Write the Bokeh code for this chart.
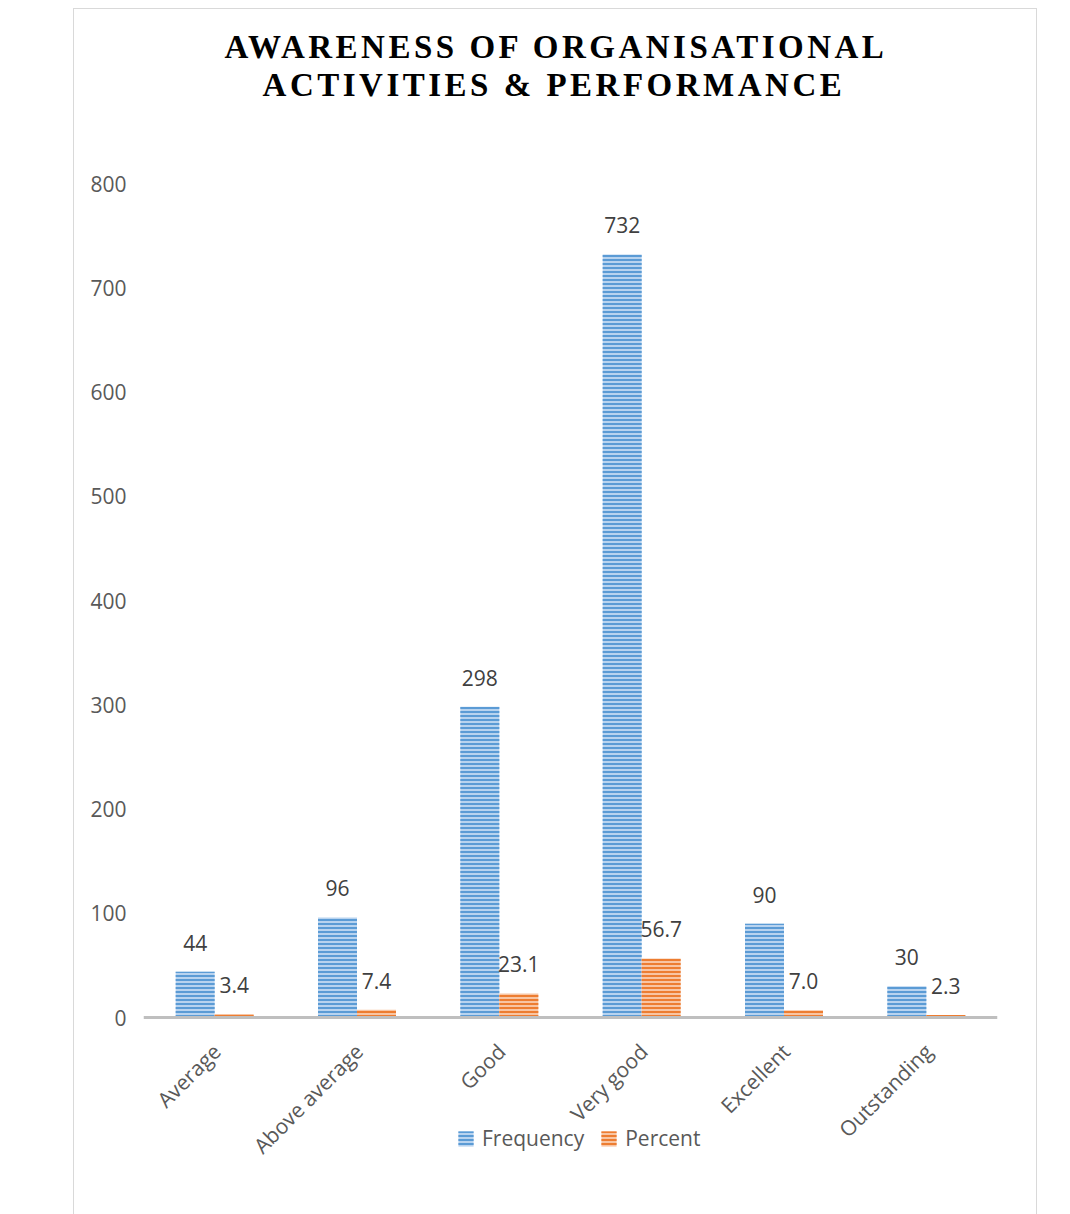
import math
from bokeh.plotting import figure
from bokeh.models import (ColumnDataSource, FactorRange, LabelSet, Legend, LegendItem,
                          Range1d, Spacer, FixedTicker, Span)
from bokeh.core.properties import value
from bokeh.transform import dodge
from bokeh.layouts import row, column
from bokeh.embed import file_html
from bokeh.resources import INLINE

categories = ["Average", "Above average", "Good", "Very good", "Excellent", "Outstanding"]
frequency = [44, 96, 298, 732, 90, 30]
percent = [3.4, 7.4, 23.1, 56.7, 7.0, 2.3]
y_ticks = [0, 100, 200, 300, 400, 500, 600, 700, 800]
title_lines = ["AWARENESS OF ORGANISATIONAL", "ACTIVITIES & PERFORMANCE"]

FONT = "Open Sans"
FS = "21px"
BAR_W = 0.274
W = 962
TITLE_H = 120
MAIN_H = 1090

# ---------- title strip ----------
t = figure(width=W, height=TITLE_H, x_range=Range1d(0, W), y_range=Range1d(0, TITLE_H),
           x_axis_type=None, y_axis_type=None, output_backend="svg", toolbar_location=None,
           min_border=0)
t.grid.visible = False
t.outline_line_color = None
t.styles = {"letter-spacing": "3.5px"}
tsrc = ColumnDataSource(dict(txt=title_lines, x=[412, 415], y=[83, 45]))
t.text(x="x", y="y", text="txt", source=tsrc, text_align="center", text_baseline="alphabetic",
       text_font=value("Liberation Serif"), text_font_style="bold", text_font_size="33px",
       text_color="#000000")

# ---------- main chart ----------
src = ColumnDataSource(dict(
    cat=categories, freq=frequency, pct=percent,
    freq_lbl=[str(v) for v in frequency],
    pct_lbl=[f"{v:.1f}" for v in percent],
    zero=[0] * len(categories),
))

px_per_unit = (1017 - 183) / 800.0
y_start = -(1200 - 1017) / px_per_unit

p = figure(x_range=FactorRange(*categories), y_range=Range1d(y_start, 800),
           width=W, height=MAIN_H, output_backend="svg", toolbar_location=None,
           min_border_left=69, min_border_right=39, min_border_top=54, min_border_bottom=19)
p.x_range.range_padding = 0
p.xaxis.visible = False
p.xgrid.visible = False
p.ygrid.visible = False
p.outline_line_color = None

r1 = p.vbar(x=dodge("cat", -BAR_W / 2, range=p.x_range), top="freq", width=BAR_W, source=src,
            fill_color="#b8d3ef", line_color=None,
            hatch_pattern="horizontal_line", hatch_color="#5b9bd5", hatch_scale=4, hatch_weight=2)
r2 = p.vbar(x=dodge("cat", BAR_W / 2, range=p.x_range), top="pct", width=BAR_W, source=src,
            fill_color="#f8c5a3", line_color=None,
            hatch_pattern="horizontal_line", hatch_color="#ed7d31", hatch_scale=4, hatch_weight=2)

p.add_layout(Span(location=0, dimension="width", line_color="#bfbfbf", line_width=3))

p.add_layout(LabelSet(x=dodge("cat", -BAR_W / 2, range=p.x_range), y="freq", text="freq_lbl", source=src,
                      text_align="center", text_baseline="alphabetic", y_offset=21,
                      text_font=value(FONT), text_font_size=FS, text_color="#404040"))
p.add_layout(LabelSet(x=dodge("cat", BAR_W / 2, range=p.x_range), y="pct", text="pct_lbl", source=src,
                      text_align="center", text_baseline="alphabetic", y_offset=21,
                      text_font=value(FONT), text_font_size=FS, text_color="#404040"))

# category labels (rotated 45 degrees)
p.text(x="cat", y="zero", text="cat", source=src, angle=math.pi / 4,
       text_align="right", text_baseline="middle", x_offset=2, y_offset=30,
       text_font=value(FONT), text_font_size=FS, text_color="#595959")

p.yaxis.ticker = FixedTicker(ticks=y_ticks)
p.yaxis.axis_line_color = None
p.yaxis.major_tick_line_color = None
p.yaxis.minor_tick_line_color = None
p.yaxis.major_tick_out = 0
p.yaxis.major_label_text_font = FONT
p.yaxis.major_label_text_font_size = FS
p.yaxis.major_label_text_color = "#595959"
p.yaxis.major_label_standoff = 17

legend = Legend(items=[LegendItem(label="Frequency", renderers=[r1]),
                       LegendItem(label="Percent", renderers=[r2])],
                orientation="horizontal", location=(313, 48),
                border_line_color=None, background_fill_alpha=0,
                label_text_font=FONT, label_text_font_size=FS, label_text_color="#595959",
                glyph_width=19, glyph_height=19, padding=0, margin=0, spacing=15, label_standoff=7)
p.add_layout(legend, "center")

box = column(t, p, styles={"border": "1px solid #d9d9d9"})
layout = column(Spacer(height=8), row(Spacer(width=73), box))

open("out.html", "w").write(file_html(layout, INLINE))
